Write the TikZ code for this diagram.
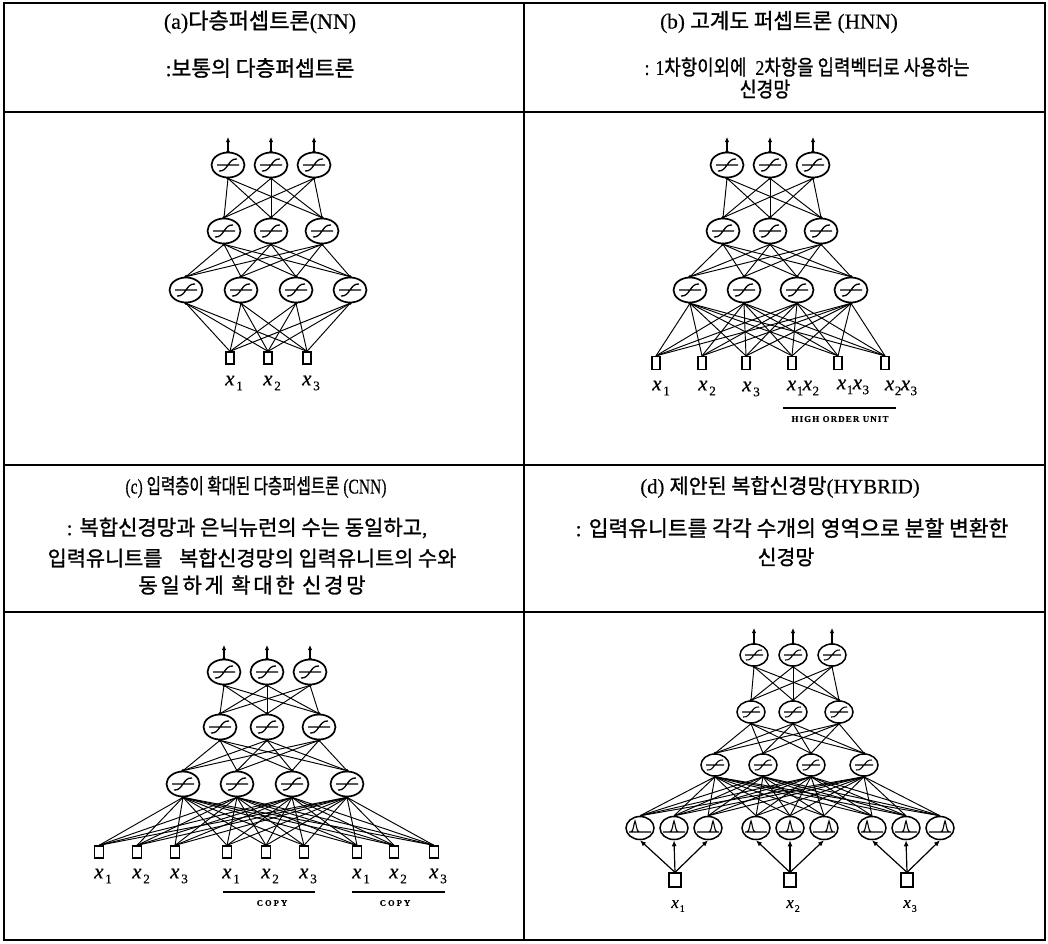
\documentclass[tikz,border=0pt]{standalone}
\usepackage{graphicx}
\usepackage{fontspec}
\setmainfont{Liberation Serif}[FakeBold=0.4]
\newfontfamily\kr{Noto Sans CJK KR}[FakeBold=1.2]
\usetikzlibrary{shapes.geometric,arrows.meta}
\newcommand\K[1]{{\kr #1}}
\newcommand\fs[1]{\fontsize{#1}{#1}\selectfont}
\newcommand\xl[1]{\textit{x}\kern1.8pt\raisebox{-0.5ex}{\fontsize{13}{13}\selectfont #1}}
\newcommand\xb[1]{\textit{x}\kern0.5pt\raisebox{-0.5ex}{\fontsize{13}{13}\selectfont #1}}
\newcommand\xsm[1]{\textit{x}\kern1pt\raisebox{-0.5ex}{\fontsize{10}{10}\selectfont #1}}
\tikzset{
  tbl/.style={line width=2pt},
  ttl/.style={inner sep=0},
  conn/.style={line width=0.95pt},
  outarr/.style={line width=1.3pt, -{Latex[length=5pt,width=4.5pt]}},
  inarr/.style={line width=1.2pt, -{Latex[length=6pt,width=5pt]}},
  neu/.style={ellipse, draw, line width=1.7pt, inner sep=0, minimum width=33pt, minimum height=25pt,
    path picture={\draw[line width=1.3pt, shift={(path picture bounding box.center)}]
      (-11,0) -- (11,0) (-9,6) .. controls (0,7) and (0,-7) .. (9,-6);}},
  neus/.style={ellipse, draw, line width=1.5pt, inner sep=0, minimum width=28pt, minimum height=22pt,
    path picture={\draw[line width=1.1pt, shift={(path picture bounding box.center)}]
      (-9,0) -- (9,0) (-8,5) .. controls (0,6) and (0,-6) .. (8,-5);}},
  gau/.style={ellipse, draw, line width=1.5pt, inner sep=0, minimum width=28pt, minimum height=23pt,
    path picture={\draw[line width=1.1pt, shift={(path picture bounding box.center)}]
      (-11,4) -- (11,4) (#1-4,4) .. controls (#1-1.5,4) and (#1-1,-6) .. (#1,-7) .. controls (#1+1,-6) and (#1+1.5,4) .. (#1+4,4);}},
  inbox/.style={draw, line width=1.3pt, inner sep=0, minimum width=8pt, minimum height=12pt},
  lab/.style={font=\fs{21}, inner sep=0},
  labs/.style={font=\fs{17}, inner sep=0},
  captxt/.style={inner sep=0}
}
\begin{document}
\begin{tikzpicture}[x=1pt,y=-1pt]
\useasboundingbox (0,0) rectangle (1048,943);
% ---------- table ----------
\draw[tbl] (4,3) rectangle (1045,940);
\draw[line width=2.6pt] (4,3) -- (1045,3);
\draw[tbl] (524,3) -- (524,940);
\draw[tbl] (4,112) -- (1045,112);
\draw[tbl] (4,465) -- (1045,465);
\draw[tbl] (4,612) -- (1045,612);
% ---------- headings ----------
\node[ttl, font=\fs{22}] (ta) at (260,22) {(a)\K{다층퍼셉트론}(NN)};
\node[ttl, font=\fs{21.5}] (sa) at (260,68) {:\K{보통의 다층퍼셉트론}};
\node[ttl, font=\fs{21.3}] (tb) at (779,22) {(b) \K{고계도 퍼셉트론} (HNN)};
\node[ttl, font=\fs{21}] (sb1) at (807,67) {\scalebox{0.85}[1]{: 1\K{차항이외에}\hspace{0.5em}2\K{차항을 입력벡터로 사용하는}}};
\node[ttl, font=\fs{21}] (sb2) at (765,89) {\scalebox{0.87}[1]{\K{신경망}}};
\node[ttl, font=\fs{21}] (tc) at (256,487) {\scalebox{0.74}[1]{(c) \K{입력층이 확대된 다층퍼셉트론} (CNN)}};
\node[ttl, font=\fs{21}] (sc1) at (247,528) {: \K{복합신경망과 은닉뉴런의 수는 동일하고},};
\node[ttl, font=\fs{20.8}] (sc2) at (252,558) {\K{입력유니트를}\hspace{0.8em}\K{복합신경망의 입력유니트의 수와}};
\node[ttl, font=\fs{21}] (sc3) at (252,585) {\kr\addfontfeature{LetterSpace=13}동일하게 확대한 신경망};
\node[ttl, font=\fs{20.7}] (td) at (780,487) {(d) \K{제안된 복합신경망}(HYBRID)};
\node[ttl, font=\fs{21.5}] (sd1) at (792,528) {: \K{입력유니트를 각각 수개의 영역으로 분할 변환한}};
\node[ttl, font=\fs{20.5}] (sd2) at (786,557) {\K{신경망}};

% ================= (a) =================
\foreach \x [count=\i] in {228,271,314} {\node[neu] (a-t\i) at (\x,165) {}; \coordinate (a-o\i) at (\x,137);}
\foreach \x [count=\i] in {224,271,322} \node[neu] (a-m\i) at (\x,231) {};
\foreach \x [count=\i] in {186,241,296,350} \node[neu] (a-h\i) at (\x,290) {};
\foreach \x [count=\i] in {230,268,307} {\node[inbox] (a-i\i) at (\x,358) {}; \node[lab] (a-l\i) at (\x+4,383) {\xl{\i}};}
\foreach \i in {1,2,3} {\draw[outarr] (a-t\i.north) -- (a-o\i); \fill (a-t\i.north) circle[radius=1.8pt];}
\foreach \i in {1,2,3} \foreach \j in {1,2,3} \draw[conn] (a-t\i.south) -- (a-m\j.north);
\foreach \i in {1,2,3} \foreach \j in {1,...,4} \draw[conn] (a-m\i.south) -- (a-h\j.north);
\foreach \i in {1,...,4} \foreach \j in {1,2,3} \draw[conn] (a-h\i.south) -- (a-i\j.north);
\foreach \i in {1,2,3} {\fill (a-t\i.south) circle[radius=1.8pt]; \fill (a-m\i.north) circle[radius=1.8pt]; \fill (a-m\i.south) circle[radius=1.8pt];}
\foreach \i in {1,...,4} {\fill (a-h\i.north) circle[radius=1.8pt]; \fill (a-h\i.south) circle[radius=1.8pt];}

% ================= (b) =================
\foreach \x [count=\i] in {727,770,813} {\node[neu] (b-t\i) at (\x,165) {}; \coordinate (b-o\i) at (\x,137);}
\foreach \x [count=\i] in {723,770,821} \node[neu] (b-m\i) at (\x,231) {};
\foreach \x [count=\i] in {690,744,797,851} \node[neu] (b-h\i) at (\x,290) {};
\foreach \x [count=\i] in {656,702,746,792,838,885} \node[inbox, minimum height=13pt] (b-i\i) at (\x,363) {};
\node[lab] (b-l1) at (661,388) {\xl{1}};
\node[lab] (b-l2) at (707,388) {\xl{2}};
\node[lab] (b-l3) at (751,389) {\xl{3}};
\node[lab] (b-l4) at (803,388) {\xb{1}\kern-0.5pt\xb{2}};
\node[lab] (b-l5) at (853,387) {\xb{1}\kern-0.5pt\xb{3}};
\node[lab] (b-l6) at (901,388) {\xb{2}\kern-0.5pt\xb{3}};
\coordinate (b-u1) at (783,408); \coordinate (b-u2) at (896,408);
\draw[line width=1.4pt] (b-u1) -- (b-u2);
\node[captxt, font=\fs{9}\bfseries\addfontfeature{LetterSpace=12}] (b-hou) at (840,419) {HIGH ORDER UNIT};
\foreach \i in {1,2,3} {\draw[outarr] (b-t\i.north) -- (b-o\i); \fill (b-t\i.north) circle[radius=1.8pt];}
\foreach \i in {1,2,3} \foreach \j in {1,2,3} \draw[conn] (b-t\i.south) -- (b-m\j.north);
\foreach \i in {1,2,3} \foreach \j in {1,...,4} \draw[conn] (b-m\i.south) -- (b-h\j.north);
\foreach \i in {1,...,4} \foreach \j in {1,...,6} \draw[conn] (b-h\i.south) -- (b-i\j.north);
\foreach \i in {1,2,3} {\fill (b-t\i.south) circle[radius=1.8pt]; \fill (b-m\i.north) circle[radius=1.8pt]; \fill (b-m\i.south) circle[radius=1.8pt];}
\foreach \i in {1,...,4} {\fill (b-h\i.north) circle[radius=1.8pt]; \fill (b-h\i.south) circle[radius=1.8pt];}

% ================= (c) =================
\foreach \x [count=\i] in {224,267,310} {\node[neu] (c-t\i) at (\x,672) {}; \coordinate (c-o\i) at (\x,645);}
\foreach \x [count=\i] in {220,267,319} \node[neu] (c-m\i) at (\x,727) {};
\foreach \x [count=\i] in {183,237,292,347} \node[neu] (c-h\i) at (\x,784) {};
\foreach \x/\n [count=\i] in {99/1,137/2,175/3,227/1,266/2,304/3,357/1,394/2,434/3}
  {\node[inbox, minimum width=9pt] (c-i\i) at (\x,852) {}; \node[lab] (c-l\i) at (\x+4,876) {\xl{\n}};}
\coordinate (c-u1) at (223,892); \coordinate (c-u2) at (315,892);
\coordinate (c-u3) at (352,892); \coordinate (c-u4) at (445,892);
\draw[line width=1.4pt] (c-u1) -- (c-u2);
\draw[line width=1.4pt] (c-u3) -- (c-u4);
\node[captxt, font=\fs{8.5}\bfseries\addfontfeature{LetterSpace=25}] (c-cp1) at (272,903) {COPY};
\node[captxt, font=\fs{8.5}\bfseries\addfontfeature{LetterSpace=25}] (c-cp2) at (395,903) {COPY};
\foreach \i in {1,2,3} {\draw[outarr] (c-t\i.north) -- (c-o\i); \fill (c-t\i.north) circle[radius=1.8pt];}
\foreach \i in {1,2,3} \foreach \j in {1,2,3} \draw[conn] (c-t\i.south) -- (c-m\j.north);
\foreach \i in {1,2,3} \foreach \j in {1,...,4} \draw[conn] (c-m\i.south) -- (c-h\j.north);
\foreach \i in {1,...,4} \foreach \j in {1,...,9} \draw[conn] (c-h\i.south) -- (c-i\j.north);
\foreach \i in {1,2,3} {\fill (c-t\i.south) circle[radius=1.8pt]; \fill (c-m\i.north) circle[radius=1.8pt]; \fill (c-m\i.south) circle[radius=1.8pt];}
\foreach \i in {1,...,4} {\fill (c-h\i.north) circle[radius=1.8pt]; \fill (c-h\i.south) circle[radius=1.8pt];}

% ================= (d) =================
\foreach \x [count=\i] in {754,793,832} {\node[neus] (d-t\i) at (\x,655) {}; \coordinate (d-o\i) at (\x,628);}
\foreach \x [count=\i] in {751,793,839} \node[neus] (d-m\i) at (\x,712) {};
\foreach \x [count=\i] in {715,763,811,864} \node[neus] (d-h\i) at (\x,765) {};
\foreach \x/\p [count=\i] in {640/-5,674/0,708/5,756/-5,790/0,824/5,872/-5,906/0,940/5}
  \node[gau=\p] (d-g\i) at (\x,828) {};
\foreach \x [count=\i] in {675,790,907} {\node[inbox, minimum width=12pt, minimum height=14pt] (d-i\i) at (\x,880) {}; \node[labs] (d-l\i) at (\x+3,906) {\xsm{\i}};}
\foreach \i in {1,2,3} {\draw[outarr] (d-t\i.north) -- (d-o\i); \fill (d-t\i.north) circle[radius=1.6pt];}
\foreach \i in {1,2,3} \foreach \j in {1,2,3} \draw[conn] (d-t\i.south) -- (d-m\j.north);
\foreach \i in {1,2,3} \foreach \j in {1,...,4} \draw[conn] (d-m\i.south) -- (d-h\j.north);
\foreach \i in {1,...,4} \foreach \j in {1,...,9} \draw[conn] (d-h\i.south) -- (d-g\j.north);
\foreach \i/\a/\b/\c in {1/1/2/3,2/4/5/6,3/7/8/9} {
  \draw[inarr] (d-i\i.north) -- (d-g\a.south);
  \draw[inarr] (d-i\i.north) -- (d-g\b.south);
  \draw[inarr] (d-i\i.north) -- (d-g\c.south);}
\foreach \i in {1,2,3} {\fill (d-t\i.south) circle[radius=1.6pt]; \fill (d-m\i.north) circle[radius=1.6pt]; \fill (d-m\i.south) circle[radius=1.6pt];}
\foreach \i in {1,...,4} {\fill (d-h\i.north) circle[radius=1.6pt]; \fill (d-h\i.south) circle[radius=1.6pt];}
\end{tikzpicture}
\end{document}
